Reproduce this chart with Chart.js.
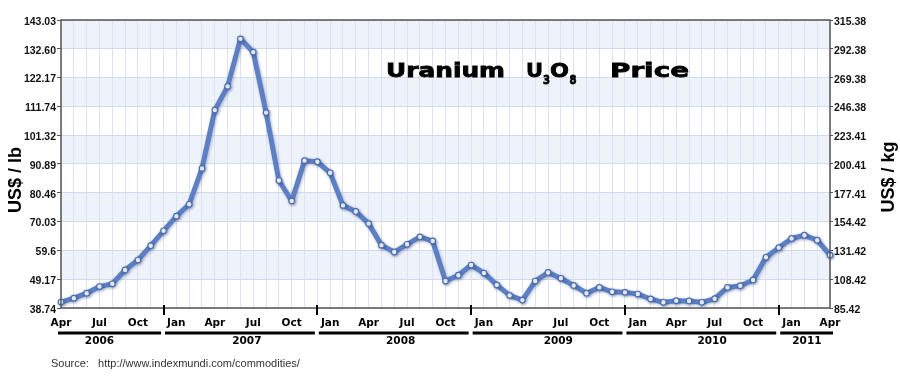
<!DOCTYPE html>
<html>
<head>
<meta charset="utf-8">
<title>Uranium U3O8 Price</title>
<script src="https://cdn.jsdelivr.net/npm/chart.js@4.4.0/dist/chart.umd.min.js"></script>
<style>
  html, body { margin: 0; padding: 0; background: #fff; }
</style>
</head>
<body>
<canvas id="uraniumChart" width="900" height="378"></canvas>
<script>
// --- DATA (monthly, Apr 2006 .. Apr 2011) ---
const months = [
  "Apr", "May", "Jun", "Jul", "Aug", "Sep", "Oct", "Nov", "Dec",
  "Jan", "Feb", "Mar", "Apr", "May", "Jun", "Jul", "Aug", "Sep", "Oct", "Nov", "Dec",
  "Jan", "Feb", "Mar", "Apr", "May", "Jun", "Jul", "Aug", "Sep", "Oct", "Nov", "Dec",
  "Jan", "Feb", "Mar", "Apr", "May", "Jun", "Jul", "Aug", "Sep", "Oct", "Nov", "Dec",
  "Jan", "Feb", "Mar", "Apr", "May", "Jun", "Jul", "Aug", "Sep", "Oct", "Nov", "Dec",
  "Jan", "Feb", "Mar", "Apr",
];
const shownMonths = ["Jan", "Apr", "Jul", "Oct"];

// US$ per lb
const prices = [
  40.9, 42.3, 44.1, 46.5, 47.5, 52.5, 56.1, 61.3, 66.7,
  72.0, 76.3, 89.3, 110.4, 119.0, 136.2, 131.4, 109.5, 84.9, 77.5, 92.1, 91.7,
  87.7, 75.9, 73.7, 69.3, 61.5, 59.0, 61.8, 64.5, 63.0, 48.5, 50.6, 54.3,
  51.4, 47.1, 43.3, 41.6, 48.5, 51.6, 49.5, 46.9, 44.1, 46.2, 44.6, 44.4,
  43.8, 42.0, 40.8, 41.4, 41.3, 40.8, 42.1, 46.2, 46.8, 48.9, 57.1, 60.6,
  63.9, 65.1, 63.3, 57.9,
];

// year groups under the month labels (indexes into months)
const years = ["2006", "2007", "2008", "2009", "2010", "2011"];
const yearFrom = [0, 8, 20, 32, 44, 56];
const yearTo = [8, 20, 32, 44, 56, 60];
const yearMid = [3, 14.5, 26.5, 38.8, 50.8, 58.2];

// axis tick labels
const lbTicks = ["38.74", "49.17", "59.6", "70.03", "80.46", "90.89", "101.32", "111.74", "122.17", "132.60", "143.03"];
const kgTicks = ["85.42", "108.42", "131.42", "154.42", "177.41", "200.41", "223.41", "246.38", "269.38", "292.38", "315.38"];

// --- helpers ---
function drawFit(ctx, text, x, base, width) {
  const w = ctx.measureText(text).width;
  ctx.save();
  ctx.translate(x, base);
  ctx.scale(width / w, 1);
  ctx.fillText(text, 0, 0);
  ctx.strokeText(text, 0, 0);
  ctx.restore();
}

function vText(ctx, text, x, y) {
  ctx.save();
  ctx.translate(x, y);
  ctx.rotate(-Math.PI / 2);
  ctx.textAlign = "center";
  ctx.textBaseline = "middle";
  ctx.fillText(text, 0, 0);
  ctx.restore();
}

// --- Plugin: bands, border, year bars, titles ---
const decor = {
  id: "decor",
  beforeDraw(chart) {
    const { ctx, chartArea: a, scales } = chart;
    ctx.save();
    ctx.fillStyle = "#fff";
    ctx.fillRect(0, 0, chart.width, chart.height);
    ctx.fillStyle = "#eef2fa";
    for (let i = 0; i < lbTicks.length - 1; i++) {
      if (i % 2 === 1) {
        const top = scales.y.getPixelForValue(parseFloat(lbTicks[i + 1]));
        const bot = scales.y.getPixelForValue(parseFloat(lbTicks[i]));
        ctx.fillRect(a.left, top, a.right - a.left, bot - top);
      }
    }
    ctx.restore();
  },
  beforeDatasetsDraw(chart) {
    const ctx = chart.ctx;
    ctx.save();
    ctx.shadowColor = "rgba(40,60,120,0.35)";
    ctx.shadowBlur = 3;
    ctx.shadowOffsetX = 1;
    ctx.shadowOffsetY = 1;
  },
  afterDatasetsDraw(chart) {
    chart.ctx.restore();
  },
  afterDraw(chart) {
    const { ctx, chartArea: a, scales } = chart;
    const xs = scales.x;
    ctx.save();

    // plot frame
    ctx.strokeStyle = "#555";
    ctx.lineWidth = 1.5;
    ctx.strokeRect(a.left, a.top, a.right - a.left, a.bottom - a.top);

    // year separators
    ctx.strokeStyle = "#000";
    ctx.lineWidth = 2;
    yearFrom.slice(1).forEach((idx) => {
      const x = Math.round(xs.getPixelForValue(idx));
      ctx.beginPath();
      ctx.moveTo(x, a.bottom - 3);
      ctx.lineTo(x, a.bottom + 7);
      ctx.stroke();
    });

    // year bars and labels
    ctx.lineWidth = 3;
    ctx.fillStyle = "#000";
    ctx.font = "bold 10.5px 'DejaVu Sans'";
    ctx.textAlign = "center";
    ctx.textBaseline = "middle";
    years.forEach((yr, k) => {
      const x0 = xs.getPixelForValue(yearFrom[k]) + (k === 0 ? -3 : 1.5);
      const x1 = xs.getPixelForValue(yearTo[k]) + (k === years.length - 1 ? 3 : -2.5);
      ctx.beginPath();
      ctx.moveTo(x0, 333);
      ctx.lineTo(x1, 333);
      ctx.stroke();
      ctx.fillText(yr, xs.getPixelForValue(yearMid[k]), 341);
    });

    // axis titles
    ctx.font = "bold 18px 'Liberation Sans'";
    vText(ctx, "US$ / lb", 16, 180);
    vText(ctx, "US$ / kg", 889, 177);

    // source
    ctx.font = "11px 'Liberation Sans'";
    ctx.fillStyle = "#333";
    ctx.textAlign = "left";
    ctx.fillText("Source:   http://www.indexmundi.com/commodities/", 51, 364);

    // chart title  Uranium U3O8 Price
    ctx.fillStyle = "#000";
    ctx.strokeStyle = "#000";
    ctx.lineWidth = 0.8;
    ctx.textAlign = "left";
    ctx.textBaseline = "alphabetic";
    ctx.font = "bold 20px 'DejaVu Sans'";
    drawFit(ctx, "Uranium", 386, 77, 119);
    drawFit(ctx, "U", 526, 77, 17);
    drawFit(ctx, "O", 550, 77, 19);
    drawFit(ctx, "Price", 610, 77, 79);
    ctx.font = "bold 12px 'DejaVu Sans'";
    drawFit(ctx, "3", 543, 84, 7);
    drawFit(ctx, "8", 569.5, 84, 7);

    ctx.restore();
  },
};

// --- Chart ---
const tickFont = { family: "Liberation Sans", size: 10.5, weight: "bold" };
const ctx = document.getElementById("uraniumChart").getContext("2d");
const uraniumChart = new Chart(ctx, {
  type: "line",
  data: {
    labels: months,
    datasets: [
      {
        label: "Uranium U3O8",
        data: prices,
        borderColor: "#5d80c4",
        borderWidth: 5,
        tension: 0,
        borderJoinStyle: "round",
        borderCapStyle: "round",
        pointRadius: 2.8,
        pointBackgroundColor: "#fff",
        pointBorderColor: "#4a6db3",
        pointBorderWidth: 1.2,
      },
    ],
  },
  options: {
    responsive: false,
    animation: false,
    devicePixelRatio: 1,
    layout: { padding: { top: 20, left: 0, right: 0, bottom: 0 } },
    plugins: { legend: { display: false }, tooltip: { enabled: false } },
    scales: {
      x: {
        type: "category",
        offset: false,
        grid: { color: "#dce2ee", lineWidth: 1, drawTicks: false },
        border: { display: false },
        ticks: {
          autoSkip: false,
          maxRotation: 0,
          minRotation: 0,
          padding: 9,
          color: "#000",
          font: { family: "DejaVu Sans", size: 10.5, weight: "bold" },
          callback: (v, i) => (shownMonths.includes(months[i]) ? months[i] : ""),
        },
        afterFit: (s) => { s.height = 70; },
      },
      y: {
        position: "left",
        min: 38.74,
        max: 143.03,
        afterBuildTicks: (s) => { s.ticks = lbTicks.map((t) => ({ value: parseFloat(t) })); },
        grid: { color: "#d3dbea", lineWidth: 1, tickLength: 4, tickColor: "#555" },
        border: { display: false },
        ticks: { padding: 1, labelOffset: 2, color: "#111", font: tickFont, autoSkip: false, callback: (v, i) => lbTicks[i] },
        afterFit: (s) => { s.width = 61; },
      },
      y1: {
        position: "right",
        min: 85.42,
        max: 315.38,
        afterBuildTicks: (s) => { s.ticks = kgTicks.map((t) => ({ value: parseFloat(t) })); },
        grid: { drawOnChartArea: false, tickLength: 3, tickColor: "#555" },
        border: { display: false },
        ticks: { padding: 1, labelOffset: 2, color: "#111", font: tickFont, autoSkip: false, callback: (v, i) => kgTicks[i] },
        afterFit: (s) => { s.width = 70; },
      },
    },
  },
  plugins: [decor],
});
</script>
</body>
</html>
